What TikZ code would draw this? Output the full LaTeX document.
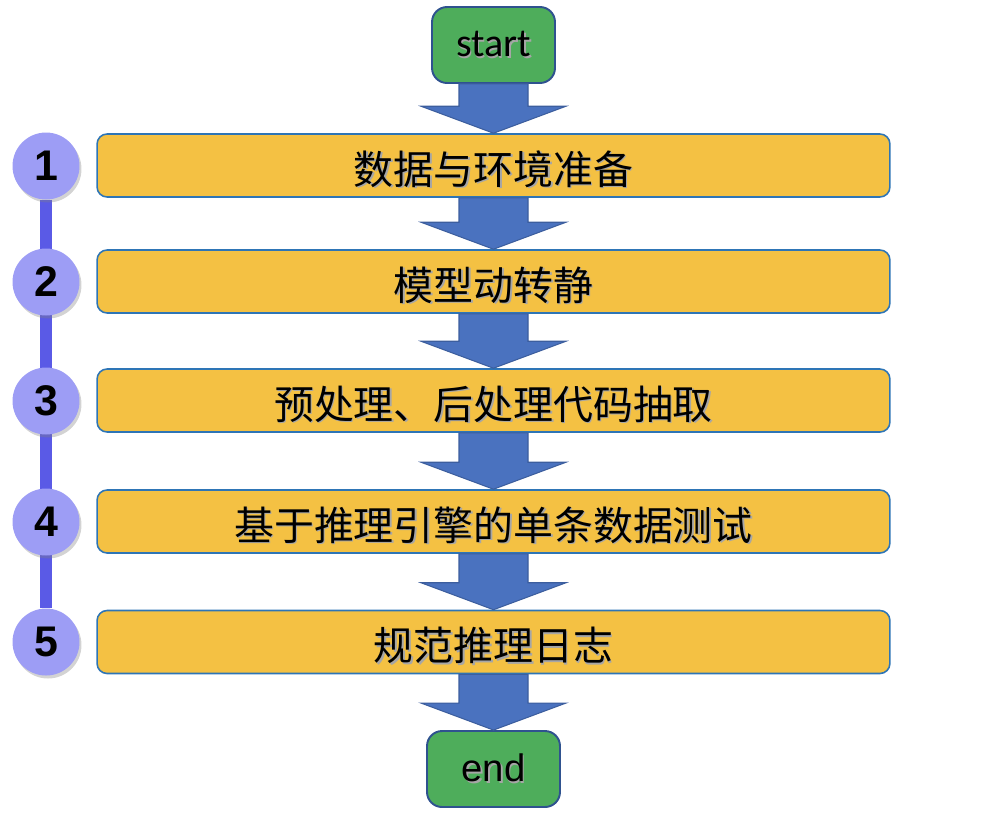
\documentclass[tikz,border=0pt]{standalone}
\usepackage{tikz}
\usepackage{xcolor}
\usepackage{fontspec}
\newfontfamily\cjk{Noto Sans CJK SC}
\newfontfamily\calfont{Carlito}
\newfontfamily\arialfont{Liberation Sans}
\usetikzlibrary{calc,shadows,backgrounds}
\definecolor{stepyellow}{HTML}{F4C143}
\definecolor{stepedge}{HTML}{2E75B6}
\definecolor{termgreen}{HTML}{4EAD5B}
\definecolor{termedge}{HTML}{2F528F}
\definecolor{arrowfill}{HTML}{4A72BF}
\definecolor{arrowedge}{HTML}{3C5E9E}
\definecolor{numfill}{HTML}{9D9DF5}
\definecolor{numline}{HTML}{5A5AE6}
\tikzstyle{stepbox} = [rectangle, rounded corners=0.2cm, minimum width=15.86cm, minimum height=1.26cm,
text centered, inner ysep=0pt, text height=0.85cm, text depth=0.1cm,
fill=stepyellow, draw=stepedge, line width=0.9pt, font=\cjk\fontsize{22.7}{26}\selectfont]
\tikzstyle{term} = [rectangle, rounded corners=0.3cm, minimum height=1.52cm, text centered,
fill=termgreen, draw=termedge, line width=1.1pt]
\tikzstyle{numcircle} = [circle, minimum size=1.34cm, inner sep=0pt, fill=numfill,
drop shadow={shadow xshift=0.04cm, shadow yshift=-0.06cm, opacity=0.35},
font=\arialfont\bfseries\fontsize{24.4}{28}\selectfont]
\tikzstyle{blockarrow} = [fill=arrowfill, draw=arrowedge, line width=0.6pt, line join=miter]
\tikzstyle{timeline} = [numline, line width=0.24cm]
% text with a soft grey shadow, as in the slide
\newcommand{\shtext}[1]{\makebox[0pt][l]{\hspace{0.9pt}\raisebox{-0.9pt}{\textcolor{black!35}{#1}}}#1}
\newcommand{\flowarrow}[2]{%
  \draw[blockarrow] let \p1=(#1.south), \p2=(#2.north) in
    (\x1-0.69cm,\y1) -- (\x1-0.69cm,\y2+0.54cm) -- (\x1-1.45cm,\y2+0.54cm) -- (\x1,\y2)
    -- (\x1+1.45cm,\y2+0.54cm) -- (\x1+0.69cm,\y2+0.54cm) -- (\x1+0.69cm,\y1) -- cycle;}

\begin{document}
\begin{tikzpicture}[x=0.02cm, y=-0.02cm]
        \useasboundingbox (0,0) rectangle (996,816);

        \node[term, minimum width=2.46cm, font=\calfont\fontsize{22.8}{26}\selectfont] (start) at (493.5,45) {\shtext{start}};
        \node[stepbox] (prep) at (493.5,165.5) {\shtext{数据与环境准备}};
        \node[stepbox] (conv) at (493.5,281.5) {\shtext{模型动转静}};
        \node[stepbox] (code) at (493.5,400.5) {\shtext{预处理、后处理代码抽取}};
        \node[stepbox] (test) at (493.5,521.5) {\shtext{基于推理引擎的单条数据测试}};
        \node[stepbox] (logs) at (493.5,642) {\shtext{规范推理日志}};
        \node[term, minimum width=2.66cm, font=\arialfont\fontsize{21.8}{26}\selectfont] (end) at (493.5,769) {\shtext{end}};

        \node[numcircle] (n1) at (46,166) {1};
        \node[numcircle] (n2) at (46,282) {2};
        \node[numcircle] (n3) at (46,401) {3};
        \node[numcircle] (n4) at (46,522) {4};
        \node[numcircle] (n5) at (46,642) {5};

        \begin{scope}[on background layer]
            \draw[timeline] (n1) -- (n5);
        \end{scope}

        \flowarrow{start}{prep}
        \flowarrow{prep}{conv}
        \flowarrow{conv}{code}
        \flowarrow{code}{test}
        \flowarrow{test}{logs}
        \flowarrow{logs}{end}

    \end{tikzpicture}
\end{document}
